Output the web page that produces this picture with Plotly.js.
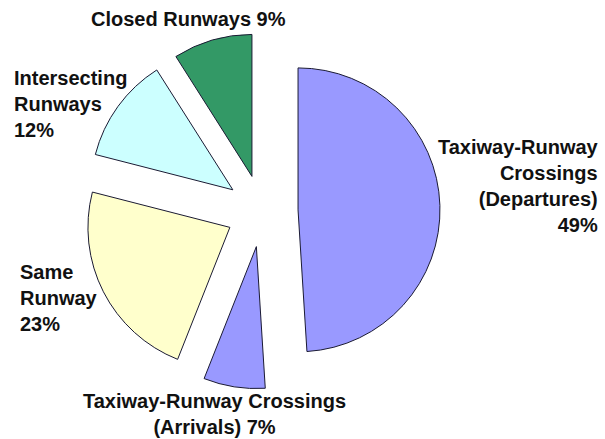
<!DOCTYPE html>
<html>
<head>
<meta charset="utf-8">
<script src="https://cdn.plot.ly/plotly-3.0.1.min.js"></script>
<style>html,body{margin:0;padding:0;background:#fff;}#chart{width:605px;height:439px;}</style>
</head>
<body>
<div id="chart"></div>
<script>
// Data
var categories = ["Taxiway-Runway Crossings (Departures)", "Taxiway-Runway Crossings (Arrivals)", "Same Runway", "Intersecting Runways", "Closed Runways"];
var values = [49, 7, 23, 12, 9];
var labelTexts = ["Taxiway-Runway<br>Crossings<br>(Departures)<br>", "Taxiway-Runway Crossings<br>(Arrivals) ", "Same<br>Runway<br>", "Intersecting<br>Runways<br>", "Closed Runways "];
var sliceColors = ["#9999FF", "#9999FF", "#FFFFCC", "#CCFFFF", "#339966"];

// Label placement (pixels in the 605x439 page)
var labelPos = [
  {x: 601, y: 186, xanchor: "right", align: "right"},
  {x: 214, y: 414, xanchor: "center", align: "center"},
  {x: 18, y: 298, xanchor: "left", align: "left"},
  {x: 12, y: 104, xanchor: "left", align: "left"},
  {x: 188, y: 19, xanchor: "center", align: "center"}
];

var W = 605, H = 439;
var annotations = categories.map(function (c, i) {
  var p = labelPos[i];
  return {
    text: labelTexts[i] + values[i] + "%",
    xref: "paper", yref: "paper",
    x: p.x / W, y: 1 - p.y / H,
    xanchor: p.xanchor, yanchor: "middle", align: p.align,
    showarrow: false,
    font: {family: "Liberation Sans, Arial, sans-serif", size: 20, color: "#111111", weight: "bold"}
  };
});

var trace = {
  type: "pie",
  labels: categories,
  values: values,
  sort: false,
  direction: "clockwise",
  rotation: 0,
  pull: values.map(function () { return 0.254; }),
  marker: {colors: sliceColors, line: {color: "#1a1a33", width: 1}},
  textinfo: "none",
  hoverinfo: "none",
  domain: {x: [84 / W, 440 / W], y: [1 - 389 / H, 1 - 33 / H]}
};

var layout = {
  width: W, height: H,
  margin: {l: 0, r: 0, t: 0, b: 0},
  showlegend: false,
  paper_bgcolor: "#ffffff",
  annotations: annotations
};

Plotly.newPlot("chart", [trace], layout, {staticPlot: true, displayModeBar: false});
</script>
</body>
</html>
